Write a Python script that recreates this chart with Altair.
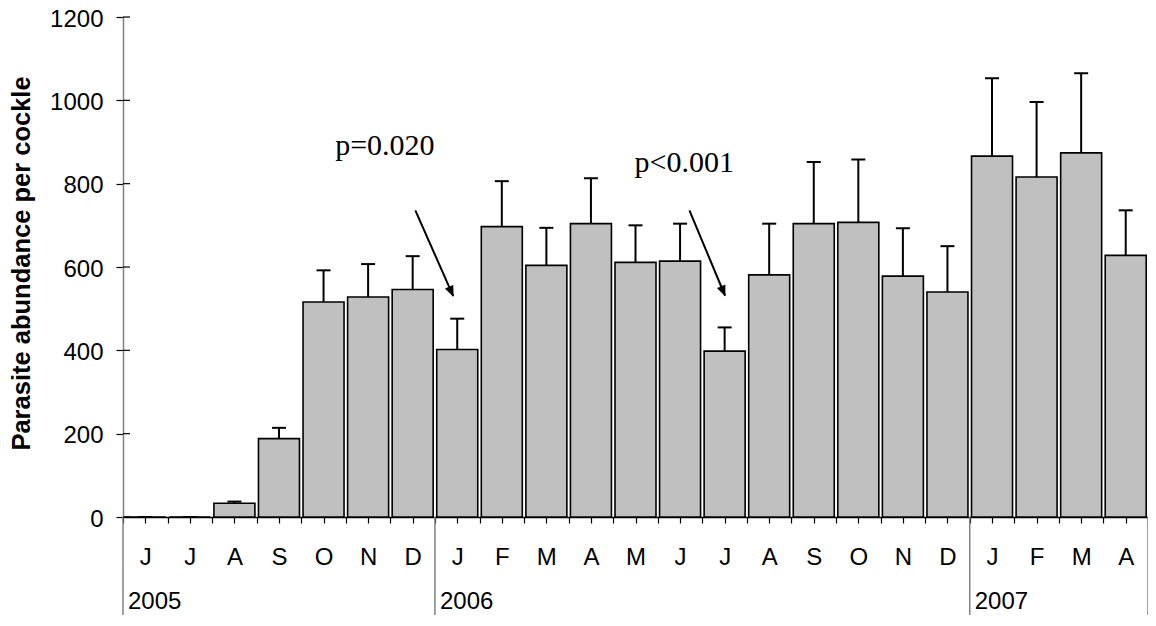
import json
import math
import altair as alt
import pandas as pd

# ---- data ----
months = ["J", "J", "A", "S", "O", "N", "D",
          "J", "F", "M", "A", "M", "J", "J", "A", "S", "O", "N", "D",
          "J", "F", "M", "A"]
means = [0, 0, 33, 188, 516, 528, 546,
         402, 697, 604, 704, 611, 614, 398, 581, 704, 707, 578, 540,
         866, 816, 874, 628]
upper = [0, 0, 37, 214, 592, 607, 626,
         476, 806, 694, 813, 700, 704, 455, 704, 852, 858, 693, 650,
         1053, 996, 1065, 736]
year_labels = ["2005", "2006", "2007"]
year_start = [0, 7, 19]
year_bounds = [0, 7, 19, 23]
y_ticks = [0, 200, 400, 600, 800, 1000, 1200]

p_labels = ["p=0.020", "p<0.001"]
p_x = [4.76, 11.48]
p_y = [870, 828]
arrow_x0 = [6.56, 12.71]
arrow_y0 = [736, 736]
arrow_x1 = [7.41, 13.51]
arrow_y1 = [530, 531]

# ---- layout ----
W, H = 1025, 500
BOTTOM = 98
N = len(months)
SANS = "Liberation Sans"
SERIF = "Liberation Serif"

df = pd.DataFrame({"idx": range(N), "month": months, "mean": means, "upper": upper})
df["center"] = df["idx"] + 0.5
df["x0"] = df["idx"] + 0.04
df["x1"] = df["idx"] + 0.96

px_x = W / N
px_y = H / 1200.0
ang = []
for a, b, c, d in zip(arrow_x0, arrow_y0, arrow_x1, arrow_y1):
    dx = (c - a) * px_x
    dy = (b - d) * px_y  # screen y grows downward
    ang.append((360 - math.degrees(math.atan2(dx, dy))) % 360)
arrows = pd.DataFrame({"x0": arrow_x0, "y0": arrow_y0, "x1": arrow_x1, "y1": arrow_y1, "angle": ang})
ptext = pd.DataFrame({"label": p_labels, "x": p_x, "y": p_y})
years = pd.DataFrame({"label": year_labels, "x": year_start})
bounds = pd.DataFrame({"x": year_bounds})
yt = pd.DataFrame({"v": y_ticks})

xs = alt.Scale(domain=[0, N], nice=False, zero=False)
ys = alt.Scale(domain=[0, 1200], nice=False)

label_expr = "(datum.value % 1 == 0.5) ? " + json.dumps(months) + "[floor(datum.value)] : ''"
x_axis = alt.Axis(values=[i / 2 for i in range(2 * N + 1)], tickSize=6, tickColor="black",
                  tickWidth=1.2, labelExpr=label_expr, labelPadding=22, labelFontSize=24,
                  labelFont=SANS, labelColor="black", domainColor="black", domainWidth=1.5,
                  labelOverlap=False, labelFlush=False, grid=False, title=None)
y_axis = alt.Axis(values=y_ticks, format="d", tickSize=7, tickColor="black", tickWidth=1.2,
                  labelPadding=13, labelFontSize=24, labelFont=SANS, labelColor="black",
                  labelOffset=2, labelFlush=False,
                  domainColor="#808080", domainWidth=1.5, grid=False,
                  title="Parasite abundance per cockle", titleFontSize=25.5, titleFont=SANS,
                  titleFontWeight="bold", titleColor="black", titleAngle=270,
                  titleX=-94, titleY=246, titleAlign="center", titleBaseline="alphabetic")


def X(field):
    return alt.X(field, scale=xs, axis=x_axis)


def Y(field):
    return alt.Y(field, scale=ys, axis=y_axis)


bars = alt.Chart(df).mark_bar(fill="#C0C0C0", stroke="black", strokeWidth=1.6).encode(
    x=X("x0:Q"), x2="x1:Q",
    y=Y("mean:Q"), y2=alt.datum(0),
)
err = alt.Chart(df).mark_rule(color="black", strokeWidth=2).encode(
    x=X("center:Q"), y=Y("mean:Q"), y2="upper:Q",
)
caps = alt.Chart(df).mark_tick(orient="horizontal", color="black", size=14, thickness=2,
                               opacity=1).encode(
    x=X("center:Q"), y=Y("upper:Q"),
)
inner_ticks = alt.Chart(yt).mark_rule(color="black", strokeWidth=1.2).encode(
    y=Y("v:Q"), x=alt.value(0), x2=alt.value(7),
)
seps = alt.Chart(bounds).mark_rule(color="#808080", strokeWidth=1.5).encode(
    x=X("x:Q"), y=alt.value(H), y2=alt.value(H + BOTTOM),
)
year_text = alt.Chart(years).mark_text(align="left", baseline="alphabetic", dx=5,
                                       fontSize=24, font=SANS, color="black").encode(
    x=X("x:Q"), y=alt.value(H + BOTTOM - 6), text="label:N",
)
p_text = alt.Chart(ptext).mark_text(align="left", baseline="alphabetic", fontSize=30,
                                    font=SERIF, color="black").encode(
    x=X("x:Q"), y=Y("y:Q"), text="label:N",
)
arrow_lines = alt.Chart(arrows).mark_rule(color="black", strokeWidth=2).encode(
    x=X("x0:Q"), y=Y("y0:Q"), x2="x1:Q", y2="y1:Q",
)
arrow_heads = alt.Chart(arrows).mark_point(shape="M0,0 L-0.42,-1 L0.42,-1 Z", filled=True,
                                           fill="black", stroke="black", strokeWidth=0.5,
                                           opacity=1, size=400).encode(
    x=X("x1:Q"), y=Y("y1:Q"),
    angle=alt.Angle("angle:Q", scale=None),
)

chart = alt.layer(seps, bars, err, caps, inner_ticks, year_text, p_text, arrow_lines,
                  arrow_heads).properties(
    width=W, height=H,
    autosize=alt.AutoSizeParams(type="none"),
    padding={"left": 115, "top": 9, "right": 0, "bottom": BOTTOM},
).configure_view(stroke=None)

chart.save("out.html", embed_options={"renderer": "svg", "actions": False})
